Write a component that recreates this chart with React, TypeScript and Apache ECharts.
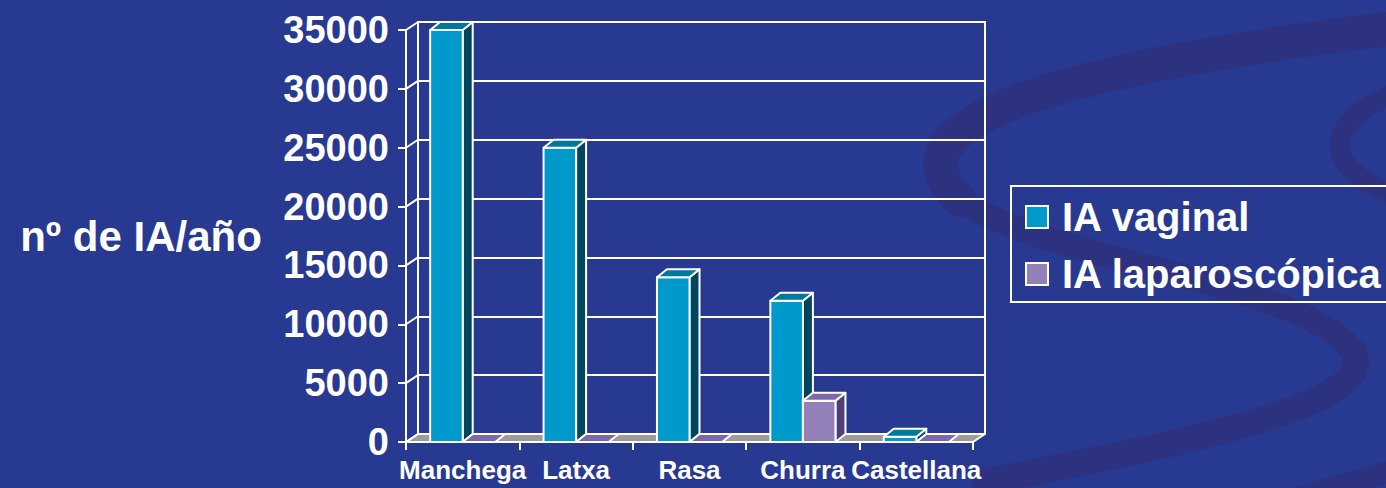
import React, { useEffect, useRef } from 'react';
import * as echarts from 'echarts';

// ---------- data ----------
const categories = ['Manchega', 'Latxa', 'Rasa', 'Churra', 'Castellana'];
const vaginal = [35000, 25000, 14000, 12000, 450];
const laparoscopica = [0, 0, 0, 3500, 0];
const yTicks = [0, 5000, 10000, 15000, 20000, 25000, 30000, 35000];
const seriesNames = ['IA vaginal', 'IA laparoscópica'];
const yAxisTitle = 'nº de IA/año';

// ---------- style ----------
const FONT = '"Liberation Sans", Arial, sans-serif';
const BG = '#283991';
const SWOOSH = '#2c3280';
const CYAN = { front: '#0099cc', side: '#00465f', top: '#00789d' };
const PURPLE = { front: '#9480b8', side: '#4e3f7a', top: '#7c68ac' };
const FLOOR = '#9c9c9c';
const BAR_DX = 10;
const BAR_DY = -8;
const WALL_DX = 12;
const WALL_DY = -8;
const BAR_FRAC = 0.287;
const WHITE_LINE = { stroke: '#ffffff', lineWidth: 2, lineJoin: 'round' };

function barRenderer(side: number, c: { front: string; side: string; top: string }) {
  return (params: any, api: any) => {
    const idx = api.value(0);
    const val = api.value(1);
    const base = api.coord([idx, 0]);
    const top = api.coord([idx, val]);
    const bw = api.size([1, 0])[0];
    const w = bw * BAR_FRAC;
    const x0 = side < 0 ? base[0] - w : base[0];
    const x1 = x0 + w;
    const yb = base[1];
    const yt = top[1];
    const children: any[] = [];
    if (yb - yt > 0.5) {
      children.push({
        type: 'polygon',
        shape: { points: [[x1, yb], [x1 + BAR_DX, yb + BAR_DY], [x1 + BAR_DX, yt + BAR_DY], [x1, yt]] },
        style: { fill: c.side, ...WHITE_LINE },
      });
      children.push({
        type: 'rect',
        shape: { x: x0, y: yt, width: w, height: yb - yt },
        style: { fill: c.front, ...WHITE_LINE },
      });
    }
    children.push({
      type: 'polygon',
      shape: { points: [[x0, yt], [x1, yt], [x1 + BAR_DX, yt + BAR_DY], [x0 + BAR_DX, yt + BAR_DY]] },
      style: { fill: c.top, ...WHITE_LINE },
    });
    return { type: 'group', children };
  };
}

function floorRenderer(params: any, api: any) {
  const cs = params.coordSys;
  const yb = api.coord([0, 0])[1];
  const xl = cs.x;
  const xr = cs.x + cs.width;
  return {
    type: 'polygon',
    shape: { points: [[xl, yb], [xr, yb], [xr + WALL_DX, yb + WALL_DY], [xl + WALL_DX, yb + WALL_DY]] },
    style: { fill: FLOOR, ...WHITE_LINE },
  };
}

function wallRenderer(params: any, api: any) {
  const cs = params.coordSys;
  const p = api.coord([0, api.value(1)]);
  return {
    type: 'line',
    shape: { x1: cs.x, y1: p[1], x2: cs.x + WALL_DX, y2: p[1] + WALL_DY },
    style: { stroke: '#ffffff', lineWidth: 2 },
  };
}

export default function App() {
  const ref = useRef<HTMLDivElement>(null);

  useEffect(() => {
    if (!ref.current) return;
    const chart = echarts.init(ref.current, undefined, { renderer: 'svg' });

    const swoosh = (shape: any, w: number) => ({
      type: 'bezierCurve',
      z: -100,
      silent: true,
      shape,
      style: { stroke: SWOOSH, lineWidth: w, fill: null, lineCap: 'round' },
    });

    const option: any = {
      animation: false,
      backgroundColor: BG,
      graphic: {
        elements: [
          swoosh({ x1: 1430, y1: 24, cpx1: 1100, cpy1: 62, cpx2: 870, cpy2: 115, x2: 960, y2: 200 }, 34),
          swoosh({ x1: 960, y1: 200, cpx1: 1050, cpy1: 262, cpx2: 1300, cpy2: 282, x2: 1352, y2: 350 }, 24),
          swoosh({ x1: 1352, y1: 350, cpx1: 1385, cpy1: 402, cpx2: 1200, cpy2: 440, x2: 985, y2: 482 }, 26),
          swoosh({ x1: 1400, y1: 92, cpx1: 1325, cpy1: 118, cpx2: 1315, cpy2: 170, x2: 1400, y2: 196 }, 20),
          swoosh({ x1: 1290, y1: 500, cpx1: 1330, cpy1: 488, cpx2: 1380, cpy2: 475, x2: 1420, y2: 462 }, 22),
        ],
      },
      legend: {
        show: true,
        orient: 'vertical',
        left: 1011,
        top: 186,
        padding: [11, 40, 8, 14],
        itemGap: 17,
        itemWidth: 22,
        itemHeight: 22,
        icon: 'rect',
        borderColor: '#ffffff',
        borderWidth: 2,
        itemStyle: { borderColor: '#ffffff', borderWidth: 2 },
        textStyle: {
          color: '#ffffff',
          fontSize: 40,
          fontWeight: 'bold',
          fontFamily: FONT,
          lineHeight: 40,
          padding: [0, 0, 0, 9],
        },
        data: seriesNames,
      },
      grid: [
        { left: 406, top: 30, width: 567, height: 412, show: false, outerBoundsMode: 'none' },
        {
          left: 406 + WALL_DX,
          top: 30 + WALL_DY,
          width: 567,
          height: 412,
          show: true,
          borderColor: '#ffffff',
          borderWidth: 2,
          backgroundColor: 'transparent',
          outerBoundsMode: 'none',
        },
      ],
      xAxis: [
        {
          gridIndex: 0,
          type: 'category',
          data: categories,
          boundaryGap: true,
          axisLine: { show: true, lineStyle: { color: '#ffffff', width: 2 } },
          axisTick: { show: true, length: 8, lineStyle: { color: '#ffffff', width: 2 } },
          axisLabel: {
            interval: 0,
            color: '#ffffff',
            fontSize: 26,
            fontWeight: 'bold',
            fontFamily: FONT,
            margin: 15,
          },
          splitLine: { show: false },
        },
        {
          gridIndex: 1,
          type: 'category',
          data: categories,
          show: false,
        },
      ],
      yAxis: [
        {
          gridIndex: 0,
          type: 'value',
          min: 0,
          max: 35000,
          interval: 5000,
          name: yAxisTitle,
          nameLocation: 'middle',
          nameRotate: 0,
          nameGap: 265,
          nameTextStyle: {
            color: '#ffffff',
            fontSize: 42,
            fontWeight: 'bold',
            fontFamily: FONT,
            align: 'center',
            verticalAlign: 'middle',
          },
          axisLine: { show: true, lineStyle: { color: '#ffffff', width: 2 } },
          axisTick: { show: true, length: 8, lineStyle: { color: '#ffffff', width: 2 } },
          axisLabel: {
            color: '#ffffff',
            fontSize: 38,
            fontWeight: 'bold',
            fontFamily: FONT,
            margin: 17,
            formatter: (v: number) => String(v),
          },
          splitLine: { show: false },
        },
        {
          gridIndex: 1,
          type: 'value',
          min: 0,
          max: 35000,
          interval: 5000,
          axisLine: { show: false },
          axisTick: { show: false },
          axisLabel: { show: false },
          splitLine: { show: true, lineStyle: { color: '#ffffff', width: 2 } },
        },
      ],
      series: [
        {
          type: 'custom',
          name: 'floor',
          xAxisIndex: 0,
          yAxisIndex: 0,
          clip: false,
          silent: true,
          renderItem: floorRenderer,
          data: [[0, 0]],
          encode: { x: 0, y: 1 },
        },
        {
          type: 'custom',
          name: 'wall',
          xAxisIndex: 0,
          yAxisIndex: 0,
          clip: false,
          silent: true,
          renderItem: wallRenderer,
          data: yTicks.map((v) => [0, v]),
          encode: { x: 0, y: 1 },
        },
        {
          type: 'custom',
          name: seriesNames[0],
          xAxisIndex: 0,
          yAxisIndex: 0,
          clip: false,
          itemStyle: { color: CYAN.front },
          renderItem: barRenderer(-1, CYAN),
          data: vaginal.map((v, i) => [i, v]),
          encode: { x: 0, y: 1 },
        },
        {
          type: 'custom',
          name: seriesNames[1],
          xAxisIndex: 0,
          yAxisIndex: 0,
          clip: false,
          itemStyle: { color: PURPLE.front },
          renderItem: barRenderer(1, PURPLE),
          data: laparoscopica.map((v, i) => [i, v]),
          encode: { x: 0, y: 1 },
        },
      ],
    };

    chart.setOption(option);
    return () => chart.dispose();
  }, []);

  return (
    <div
      ref={ref}
      style={{ position: 'fixed', left: 0, top: 0, width: 1386, height: 488 }}
    />
  );
}
